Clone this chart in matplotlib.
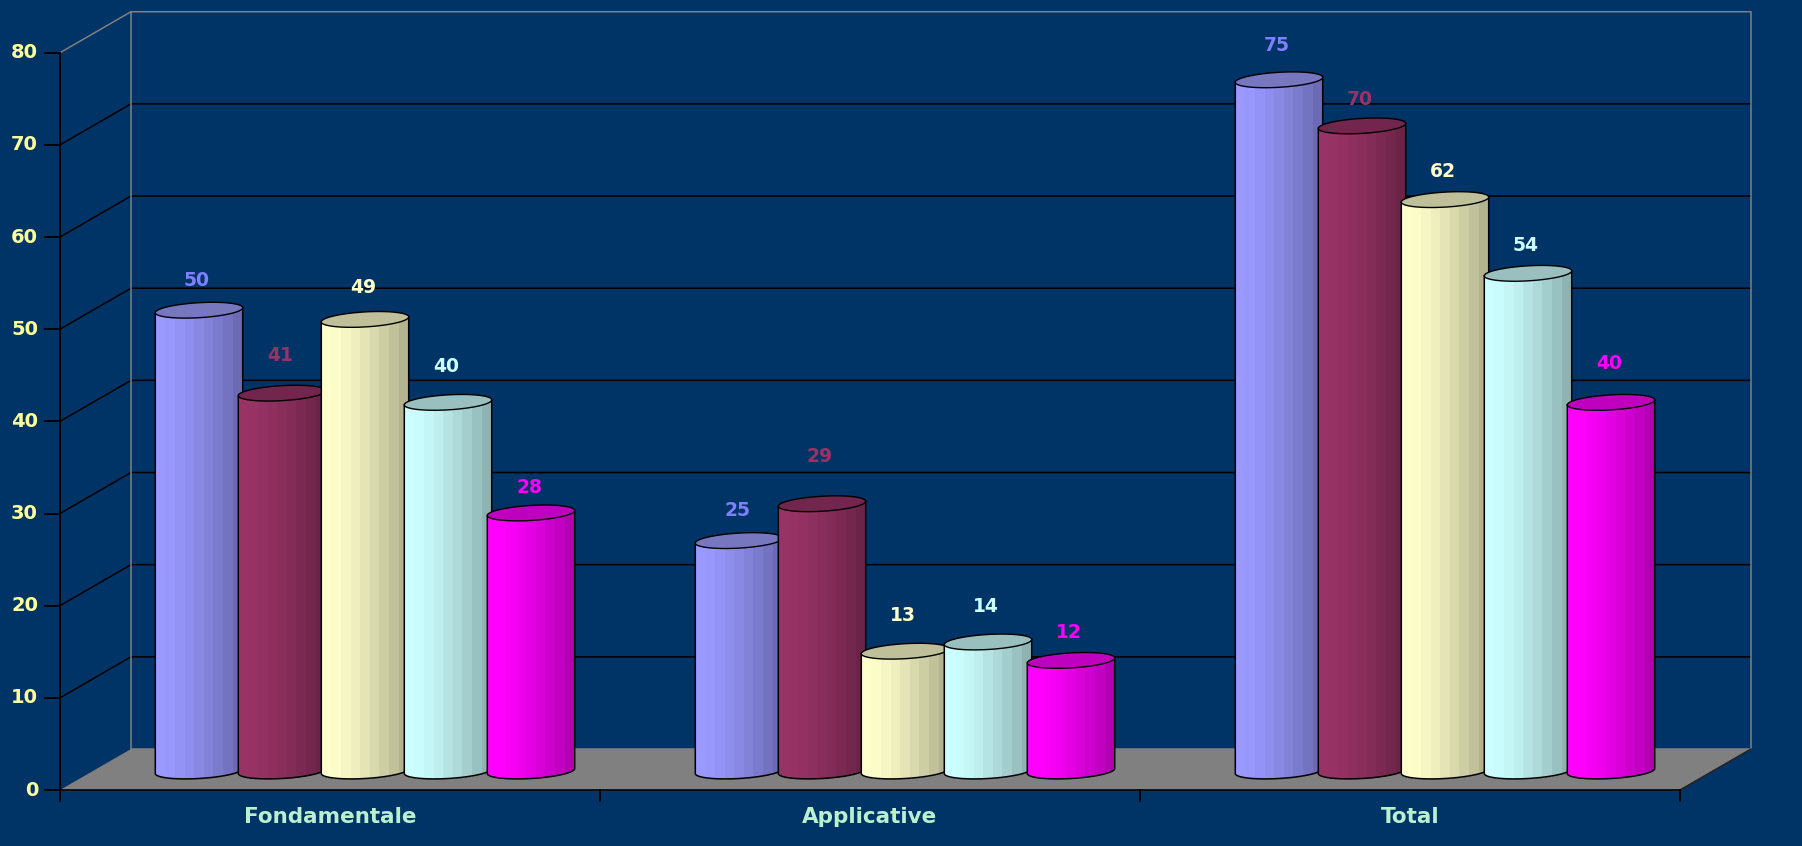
import numpy as np
import matplotlib
matplotlib.use("Agg")
import matplotlib.pyplot as plt

categories = ["Fondamentale", "Applicative", "Total"]
series_1 = [50, 25, 75]
series_2 = [41, 29, 70]
series_3 = [49, 13, 62]
series_4 = [40, 14, 54]
series_5 = [28, 12, 40]
series = [series_1, series_2, series_3, series_4, series_5]
y_ticks = [0, 10, 20, 30, 40, 50, 60, 70, 80]

# label height above each bar, in axis units
label_gaps = [[5.3, 5.3, 5.8],
              [6.2, 7.2, 4.9],
              [5.5, 5.9, 5.1],
              [5.9, 5.9, 5.1],
              [4.8, 5.1, 6.3]]

bg = "#003366"
light = ["#9999FF", "#993366", "#FFFFCC", "#CCFFFF", "#FF00FF"]
dark = ["#6B6BB3", "#6B2447", "#B3B38F", "#8FB3B3", "#B300B3"]
tops = ["#7777C0", "#73264D", "#BFBF99", "#99BFBF", "#BF00BF"]
label_cols = ["#8080FF", "#993366", "#FFFFCC", "#CCFFFF", "#FF00FF"]

# pixel scale of the plot
W, H = 1802, 846
x0_px, cat_px = 60, 540
y0_px, unit_px = 790, 9.216
px_x = 1 / cat_px
px_y = 1 / unit_px

depth_x = 71 * px_x
depth_y = 41 * px_y

fig = plt.figure(figsize=(W / 100, H / 100), dpi=100, facecolor=bg)
ax = fig.add_axes([0, 0, 1, 1])
ax.set_xlim(-x0_px * px_x, (W - x0_px) * px_x)
ax.set_ylim((y0_px - H) * px_y, y0_px * px_y)
ax.axis("off")

n_cat = len(categories)
top_val = y_ticks[-1]

# floor
ax.fill([0, n_cat, n_cat + depth_x, depth_x], [0, 0, depth_y, depth_y],
        color="#808080", lw=0, zorder=1)

# walls and grid
for v in y_ticks[1:-1]:
    ax.plot([0, depth_x, n_cat + depth_x], [v, v + depth_y, v + depth_y],
            color="black", lw=1.1, zorder=2)
ax.plot([0, depth_x, n_cat + depth_x, n_cat + depth_x, depth_x, depth_x],
        [top_val, top_val + depth_y, top_val + depth_y, depth_y, depth_y, top_val + depth_y],
        color="#808080", lw=1.1, zorder=2)

# front axes
ax.plot([0, 0], [0, top_val], color="black", lw=1.3, zorder=3)
ax.plot([0, n_cat], [0, 0], color="#111111", lw=1.4, zorder=3)
ax.plot([n_cat, n_cat + depth_x], [0, depth_y], color="#222222", lw=1.1, zorder=3)
for v in y_ticks:
    ax.plot([-15 * px_x, 0], [v, v], color="black", lw=1.3, zorder=3)
    ax.text(-22 * px_x, v, str(v), color="#FFFF99", fontsize=14, fontweight="bold",
            ha="right", va="center", zorder=6)
for i in range(n_cat + 1):
    ax.plot([i, i], [0, -11 * px_y], color="black", lw=1.3, zorder=3)
for i, name in enumerate(categories):
    ax.text(i + 0.5, -27 * px_y, name, color="#B8F0D0", fontsize=15.5, fontweight="bold",
            ha="center", va="center", zorder=6)


def to_rgb(c):
    return np.array(matplotlib.colors.to_rgb(c))


def cylinder(cx, value, j, z):
    a = 43.7 * px_x
    b = 7.5 * px_y
    tilt = 2.5 * px_y
    lift = 19 * px_y
    bands = 9
    t = np.linspace(np.pi, 2 * np.pi, 121)
    low = lift + b * np.sin(t) + tilt * np.cos(t)
    up = value + lift + b * np.sin(t) + tilt * np.cos(t)
    xs = cx + a * np.cos(t)
    # flat shaded strips, equal width across the bar, bright side stays bright longer
    cuts = np.linspace(xs[0], xs[-1], bands + 1)
    edges = np.searchsorted(xs, cuts)
    edges[-1] = 120
    for k in range(bands):
        s, e = edges[k], edges[k + 1] + 1
        frac = (k / (bands - 1)) ** 1.5
        col = to_rgb(light[j]) + (to_rgb(dark[j]) - to_rgb(light[j])) * frac
        ax.fill(np.r_[xs[s:e], xs[s:e][::-1]], np.r_[low[s:e], up[s:e][::-1]],
                color=col, lw=0, antialiased=False, zorder=z)
    ax.plot(np.r_[xs[0], xs, xs[-1]], np.r_[up[0], low, up[-1]], color="black", lw=1.1, zorder=z)
    tt = np.linspace(0, 2 * np.pi, 120)
    ax.fill(cx + a * np.cos(tt), value + lift + b * np.sin(tt) + tilt * np.cos(tt),
            facecolor=tops[j], edgecolor="black", lw=1.0, zorder=z)


for i in range(n_cat):
    for j, vals in enumerate(series):
        cx = i + 0.5 + 35 * px_x + (j - 2) * 83 * px_x
        cylinder(cx, vals[i], j, 4 + j * 0.1)
        ax.text(cx - 2 * px_x, vals[i] + label_gaps[j][i], str(vals[i]), color=label_cols[j],
                fontsize=13.5, fontweight="bold", ha="center", va="center", zorder=6)

fig.savefig("out.png", dpi=100, facecolor=bg)
